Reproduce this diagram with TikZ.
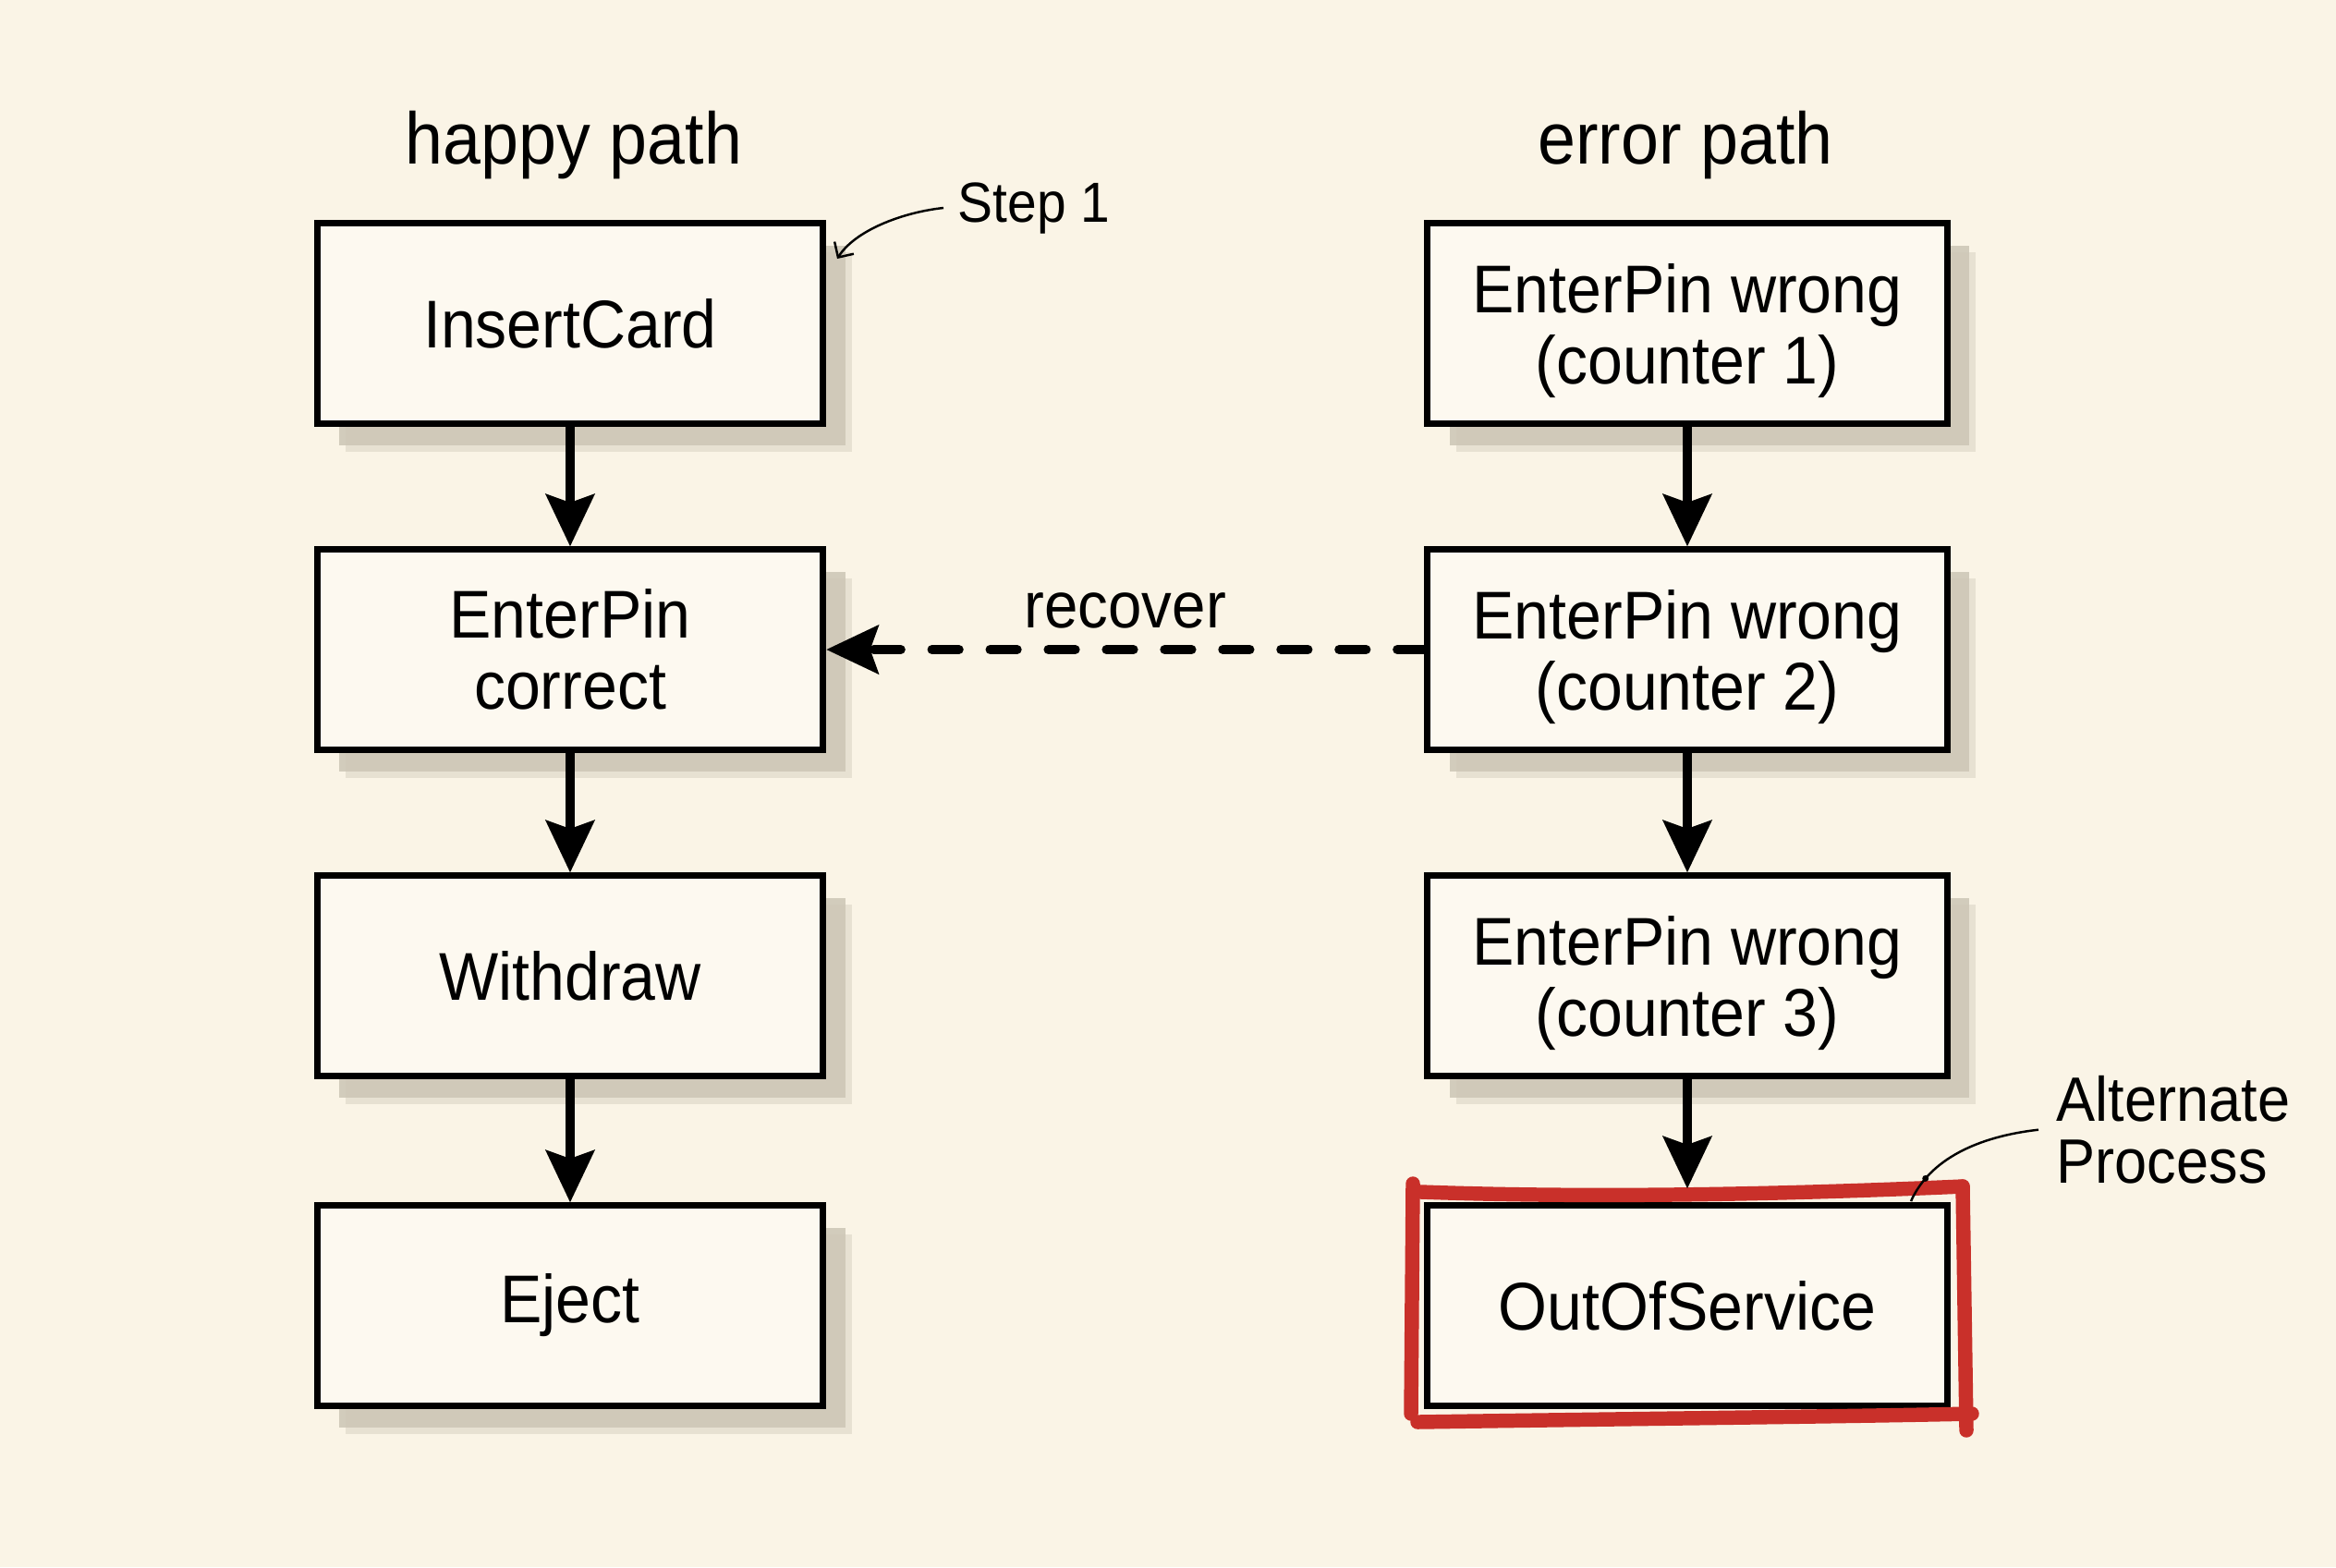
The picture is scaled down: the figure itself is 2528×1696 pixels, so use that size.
\documentclass[tikz,border=0pt]{standalone}
\usepackage{fontspec}
\setmainfont[FakeStretch=0.93]{Liberation Sans}
\usetikzlibrary{arrows.meta,shadows}
\definecolor{bgc}{HTML}{FAF4E6}
\definecolor{boxc}{HTML}{FDF9F0}
\definecolor{shadowc}{HTML}{CCC5B5}
\definecolor{redc}{HTML}{C9302A}
\newcommand{\lowr}{\rule{0pt}{19.8pt}}
\begin{document}
\begin{tikzpicture}[x=0.01cm,y=-0.01cm,
  box/.style={draw=black, line width=2pt, fill=boxc, minimum height=2.16cm,
    align=center, inner sep=0pt, font=\fontsize{20.8}{22}\selectfont},
  shbox/.style={box,
    drop shadow={shadow xshift=0.31cm, shadow yshift=-0.31cm, fill=shadowc, opacity=0.4},
    drop shadow={shadow xshift=0.24cm, shadow yshift=-0.24cm, fill=shadowc, opacity=0.85}},
  lbox/.style={shbox, minimum width=5.47cm},
  rbox/.style={shbox, minimum width=5.62cm},
  hdr/.style={inner sep=0pt, font=\fontsize{22.5}{26}\selectfont},
  flow/.style={line width=2.85pt, -{Stealth[length=16pt,width=14.8pt,inset=2.5pt]}},
  dflow/.style={line width=2.85pt, line cap=round, dash pattern=on 8.3pt off 9.6pt,
    -{Stealth[length=16pt,width=14.8pt,inset=2.5pt]}},
  redline/.style={draw=redc, line width=4.4pt, line cap=round},
  thin/.style={line width=0.7pt}
]
\fill[bgc] (0,0) rectangle (2528,1696);
\useasboundingbox (0,0) rectangle (2528,1696);

\node[hdr, anchor=base] (hh) at (621,177) {happy path};
\node[hdr, anchor=base] (he) at (1824,177) {error path};

\node[lbox] (ins) at (617,350) {InsertCard};
\node[lbox] (epc) at (617,703) {EnterPin\\correct};
\node[lbox] (wd) at (617,1056) {Withdraw};
\node[lbox] (ej) at (617,1413) {Eject};

\node[rbox] (e1) at (1826,350) {\lowr EnterPin wrong\\(counter 1)};
\node[rbox] (e2) at (1826,703) {\lowr EnterPin wrong\\(counter 2)};
\node[rbox] (e3) at (1826,1056) {\lowr EnterPin wrong\\(counter 3)};
\node[box, minimum width=5.62cm] (oos) at (1826,1413) {OutOfService};

% red hand-drawn highlight
\draw[redline] (1529,1281) -- (1527,1530);
\draw[redline] (1538,1290) .. controls (1700,1296) and (1900,1294) .. (2124,1284);
\draw[redline] (2124,1284) -- (2128,1548);
\draw[redline] (1534,1539) .. controls (1800,1535) and (2000,1533) .. (2134,1530);

% flow arrows
\draw[flow] (ins) -- (epc);
\draw[flow] (epc) -- (wd);
\draw[flow] (wd) -- (ej);
\draw[flow] (e1) -- (e2);
\draw[flow] (e2) -- (e3);
\draw[flow, shorten >=0.15cm] (e3) -- (oos);
\draw[dflow] (e2) -- (epc)
  node[midway, above, inner sep=0pt, yshift=0.18cm, font=\fontsize{20}{24}\selectfont] (rec) {recover};

% annotations
\node[anchor=base west, inner ysep=0pt, inner xsep=0.15cm, font=\fontsize{17.4}{20}\selectfont] (s1) at (1021,240) {Step 1};
\coordinate (s1tip) at (906,280);
\draw[thin, -{Straight Barb[length=3.5pt,width=7pt]}] (s1.west) .. controls (975,230) and (925,250) .. (s1tip);

\node[anchor=north west, align=left, inner ysep=0pt, inner xsep=0.19cm, font=\fontsize{19.3}{18.8}\selectfont] (alt) at (2206,1164) {Alternate\\Process};
\coordinate (altend) at (2068,1300);
\draw[thin] (alt.west) .. controls (2140,1230) and (2088,1255) .. (altend)
  node[pos=0.8, circle, fill=black, inner sep=0pt, minimum size=0.07cm] (altdot) {};
\end{tikzpicture}
\end{document}
